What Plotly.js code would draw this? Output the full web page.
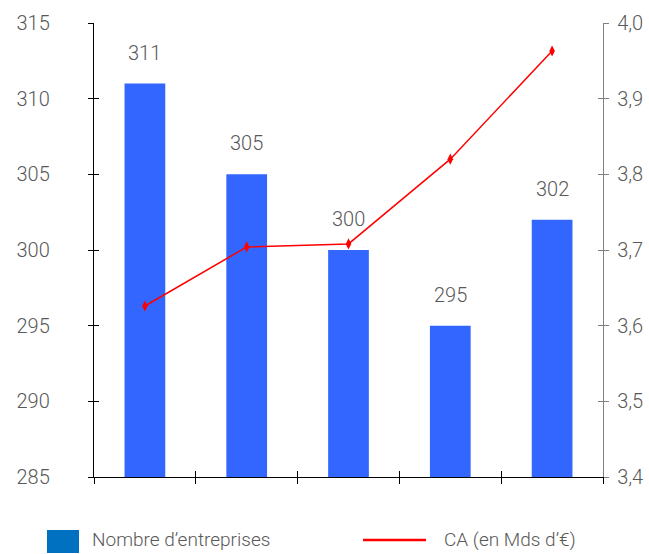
<!DOCTYPE html>
<html>
<head>
<meta charset="utf-8">
<script src="https://cdn.plot.ly/plotly-3.0.1.min.js"></script>
<style>html,body{margin:0;padding:0;background:#fff;}#chart{width:649px;height:554px;}</style>
</head>
<body>
<div id="chart"></div>
<script>
const categories = ['P1', 'P2', 'P3', 'P4', 'P5'];
const entreprises = [311, 305, 300, 295, 302];
const caMds = [3.626, 3.704, 3.708, 3.820, 3.963];
const leftTicks = [285, 290, 295, 300, 305, 310, 315];
const rightTicks = [3.4, 3.5, 3.6, 3.7, 3.8, 3.9, 4.0];
const legendNames = ['Nombre d\u2019entreprises', 'CA (en Mds d\u2019\u20ac)'];

const FONT = 'Roboto, "Open Sans", sans-serif';
const GREY = '#595959';

const barTrace = {
  type: 'bar', x: categories, y: entreprises, name: legendNames[0],
  marker: {color: '#3366FF'}, xaxis: 'x', yaxis: 'y', hoverinfo: 'skip'
};
const lineTrace = {
  type: 'scatter', mode: 'lines+markers', x: categories, y: caMds, name: legendNames[1],
  line: {color: '#FF0000', width: 1.5},
  marker: {symbol: 'diamond-tall', size: 8, color: '#FF0000'},
  xaxis: 'x', yaxis: 'y2', hoverinfo: 'skip'
};
// empty helper traces so the overlay tick axes are drawn
const helperA = {type: 'scatter', x: [], y: [], xaxis: 'x2', yaxis: 'y3', hoverinfo: 'skip', showlegend: false};
const helperB = {type: 'scatter', x: [], y: [], xaxis: 'x2', yaxis: 'y4', hoverinfo: 'skip', showlegend: false};

const annotations = categories.map((c, i) => ({
  x: i, y: entreprises[i], xref: 'x', yref: 'y', text: String(entreprises[i]),
  showarrow: false, yshift: 31, font: {family: FONT, size: 20, color: GREY, weight: 300}
}));
annotations.push({
  xref: 'paper', yref: 'paper', x: -0.0071, y: -0.1377, xanchor: 'left', yanchor: 'middle',
  text: legendNames[0], showarrow: false, font: {family: FONT, size: 19, color: GREY, weight: 300}
});
annotations.push({
  xref: 'paper', yref: 'paper', x: 0.6837, y: -0.1377, xanchor: 'left', yanchor: 'middle',
  text: legendNames[1], showarrow: false, font: {family: FONT, size: 19, color: GREY, weight: 300}
});

const tickFont = {family: FONT, size: 20, color: GREY, weight: 300};

const layout = {
  width: 649, height: 554,
  margin: {l: 94, r: 46, t: 23, b: 77},
  paper_bgcolor: '#fff', plot_bgcolor: '#fff',
  separators: ',.',
  showlegend: false,
  bargap: 0.6,
  font: {family: FONT, color: GREY},
  xaxis: {
    type: 'category', range: [-0.5, 4.5], tickson: 'boundaries',
    ticks: 'outside', ticklen: 6, tickcolor: '#000', tickwidth: 1,
    showticklabels: false, showline: true, linecolor: '#000', linewidth: 1.2,
    showgrid: false, zeroline: false, fixedrange: true
  },
  xaxis2: {
    overlaying: 'x', anchor: 'y', side: 'bottom', type: 'linear', range: [-0.5, 4.5],
    tickmode: 'linear', tick0: -0.5, dtick: 1,
    ticks: 'inside', ticklen: 6, tickcolor: '#000', tickwidth: 1,
    showticklabels: false, showline: false, showgrid: false, zeroline: false
  },
  yaxis: {
    range: [285, 315], tickmode: 'array', tickvals: leftTicks,
    ticks: 'outside', ticklen: 5, tickcolor: '#000', tickwidth: 1,
    ticklabelstandoff: 34, tickfont: tickFont,
    showline: true, linecolor: '#000', linewidth: 1.2,
    showgrid: false, zeroline: false, fixedrange: true
  },
  yaxis3: {
    overlaying: 'y', anchor: 'x', side: 'left', range: [285, 315],
    tickmode: 'array', tickvals: leftTicks,
    ticks: 'inside', ticklen: 5, tickcolor: '#000', tickwidth: 1,
    showticklabels: false, showline: false, showgrid: false, zeroline: false
  },
  yaxis2: {
    overlaying: 'y', side: 'right', anchor: 'x', range: [3.4, 4.0],
    tickmode: 'array', tickvals: rightTicks, tickformat: '.1f',
    ticks: 'outside', ticklen: 5, tickcolor: '#808080', tickwidth: 1,
    ticklabelstandoff: 4, tickfont: tickFont,
    showline: true, linecolor: '#808080', linewidth: 1.2,
    showgrid: false, zeroline: false, fixedrange: true
  },
  yaxis4: {
    overlaying: 'y', side: 'right', anchor: 'x', range: [3.4, 4.0],
    tickmode: 'array', tickvals: rightTicks,
    ticks: 'inside', ticklen: 5, tickcolor: '#808080', tickwidth: 1,
    showticklabels: false, showline: false, showgrid: false, zeroline: false
  },
  shapes: [
    {type: 'rect', xref: 'paper', yref: 'paper', x0: -0.0923, x1: -0.0295, y0: -0.1167, y1: -0.1674,
     fillcolor: '#0070C0', line: {width: 0}},
    {type: 'line', xref: 'paper', yref: 'paper', x0: 0.5285, x1: 0.6523, y0: -0.1388, y1: -0.1388,
     line: {color: '#FF0000', width: 2.5}}
  ],
  annotations: annotations
};

Plotly.newPlot('chart', [barTrace, lineTrace, helperA, helperB], layout, {displayModeBar: false, staticPlot: true});
</script>
</body>
</html>
